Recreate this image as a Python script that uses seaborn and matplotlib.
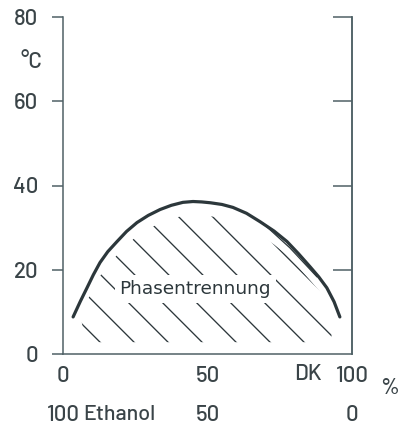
import numpy as np
import pandas as pd
import matplotlib
matplotlib.use("Agg")
import matplotlib.pyplot as plt
from matplotlib.patches import Polygon
import seaborn as sns

# Entmischungskurve DK / Ethanol
dk_share = [3.5, 6.0, 8.3, 10.5, 12.8, 15.5, 18.7, 22.0, 25.6, 29.5, 33.6, 37.5,
            41.5, 45.0, 48.0, 51.0, 55.0, 58.8, 63.5, 68.2, 73.0, 77.5, 81.5,
            85.5, 88.5, 91.3, 93.8, 95.8]
temperature = [8.8, 12.5, 15.7, 18.8, 21.7, 24.3, 26.7, 29.1, 31.2, 32.9, 34.3, 35.3,
               36.0, 36.2, 36.1, 35.9, 35.5, 34.8, 33.4, 31.4, 29.2, 26.7, 23.8,
               20.7, 18.3, 15.7, 12.4, 8.8]

# zweite, feine Linie im rechten Teil der Kurve
inner_share = [68.9, 78.5, 87.9]
inner_temp = [31.2, 25.2, 18.3]

y_ticks = [0, 20, 40, 60, 80]
right_ticks = [20, 40, 60, 80]
x_ticks = [0, 25, 50, 75, 100]
x_labels = ["0", "", "50", "", "100"]
ethanol_pos = [0, 50, 100]
ethanol_labels = ["100", "50", "0"]

ink = "#3a4448"
axis_col = "#4f6166"
curve_col = "#2c373b"

fonts = ["Barlow", "Liberation Sans", "DejaVu Sans"]

sns.set_style("white")
plt.rcParams["font.family"] = fonts
plt.rcParams["font.weight"] = "medium"

fig = plt.figure(figsize=(4.01, 4.25), dpi=100)
ax = fig.add_axes([63 / 401, 1 - 354 / 425, 289 / 401, 337 / 425])
ax.set_xlim(0, 100)
ax.set_ylim(0, 80)

curve = pd.DataFrame({"DK": dk_share, "T": temperature})
sns.lineplot(data=curve, x="DK", y="T", ax=ax, color=curve_col, lw=2.3,
             sort=False, estimator=None)
ax.plot(inner_share, inner_temp, color=curve_col, lw=0.9)

# Schraffur des Entmischungsgebiets, 45 Grad im Bild
pos = ax.get_position()
px_x = pos.width * fig.get_figwidth() * fig.dpi / 100.0
px_y = pos.height * fig.get_figheight() * fig.dpi / 80.0
slope = -px_x / px_y
step = 34.0 / px_x * (-slope)
clip_pts = [(x, t - 3.2) for x, t in zip(dk_share, temperature)]
clip_pts[0] = (dk_share[0] + 4.0, temperature[0] - 5.0)
clip_pts[-1] = (dk_share[-1] - 3.0, temperature[-1] - 5.0)
clip_pts += [(dk_share[-1] - 5.0, 2.8), (dk_share[0] + 5.0, 2.8)]
clip_poly = Polygon(clip_pts, closed=True, transform=ax.transData,
                    facecolor="none", edgecolor="none")
ax.add_patch(clip_poly)
xs = np.array([0.0, 100.0])
for k in np.arange(11.6 - 8 * step, 120, step):
    ln, = ax.plot(xs, k + slope * xs, color=curve_col, lw=0.95)
    ln.set_clip_path(clip_poly)

ax.text(45.7, 15.4, "Phasentrennung", ha="center", va="center",
        fontsize=13.3, color=curve_col, family=["DejaVu Sans"], weight="normal",
        bbox=dict(facecolor="white", edgecolor="none", pad=3.5))

# Achsen
for side in ["left", "right", "bottom"]:
    ax.spines[side].set_color(axis_col)
    ax.spines[side].set_linewidth(1.1)
ax.spines["top"].set_visible(False)

ax.set_yticks(y_ticks)
ax.set_yticklabels([str(v) for v in y_ticks])
ax.set_xticks(x_ticks)
ax.set_xticklabels(x_labels)
ax.tick_params(axis="y", direction="out", length=8, width=1.1, color=axis_col,
               labelsize=16, labelcolor=ink, pad=10)
ax.tick_params(axis="x", direction="out", length=5, width=1.1, color=axis_col,
               labelsize=16, labelcolor=ink, pad=4)
ax.set_xlabel("")
ax.set_ylabel("")

ax_r = ax.twinx()
ax_r.set_ylim(0, 80)
ax_r.set_yticks(right_ticks)
ax_r.set_yticklabels([])
ax_r.tick_params(axis="y", direction="in", length=14, width=1.1, color=axis_col)
for side in ["left", "top", "bottom"]:
    ax_r.spines[side].set_visible(False)
ax_r.spines["right"].set_color(axis_col)
ax_r.spines["right"].set_linewidth(1.1)

ytr = ax.get_yaxis_transform()
xtr = ax.get_xaxis_transform()
ax.text(-0.108, 69.4, "°C", ha="center", va="center", fontsize=16,
        color=ink, transform=ytr)
ax.text(84.8, -0.058, "DK", ha="center", va="center", fontsize=16,
        color=ink, transform=xtr)
ax.text(1.131, -0.101, "%", ha="center", va="center", fontsize=16,
        color=ink, transform=ax.transAxes)
for x, lab in zip(ethanol_pos, ethanol_labels):
    ax.text(x, -0.181, lab, ha="center", va="center", fontsize=16,
            color=ink, transform=xtr)
ax.text(7.0, -0.181, "Ethanol", ha="left", va="center", fontsize=15.5,
        color=ink, transform=xtr)

fig.savefig("out.png", dpi=100, facecolor="white")
